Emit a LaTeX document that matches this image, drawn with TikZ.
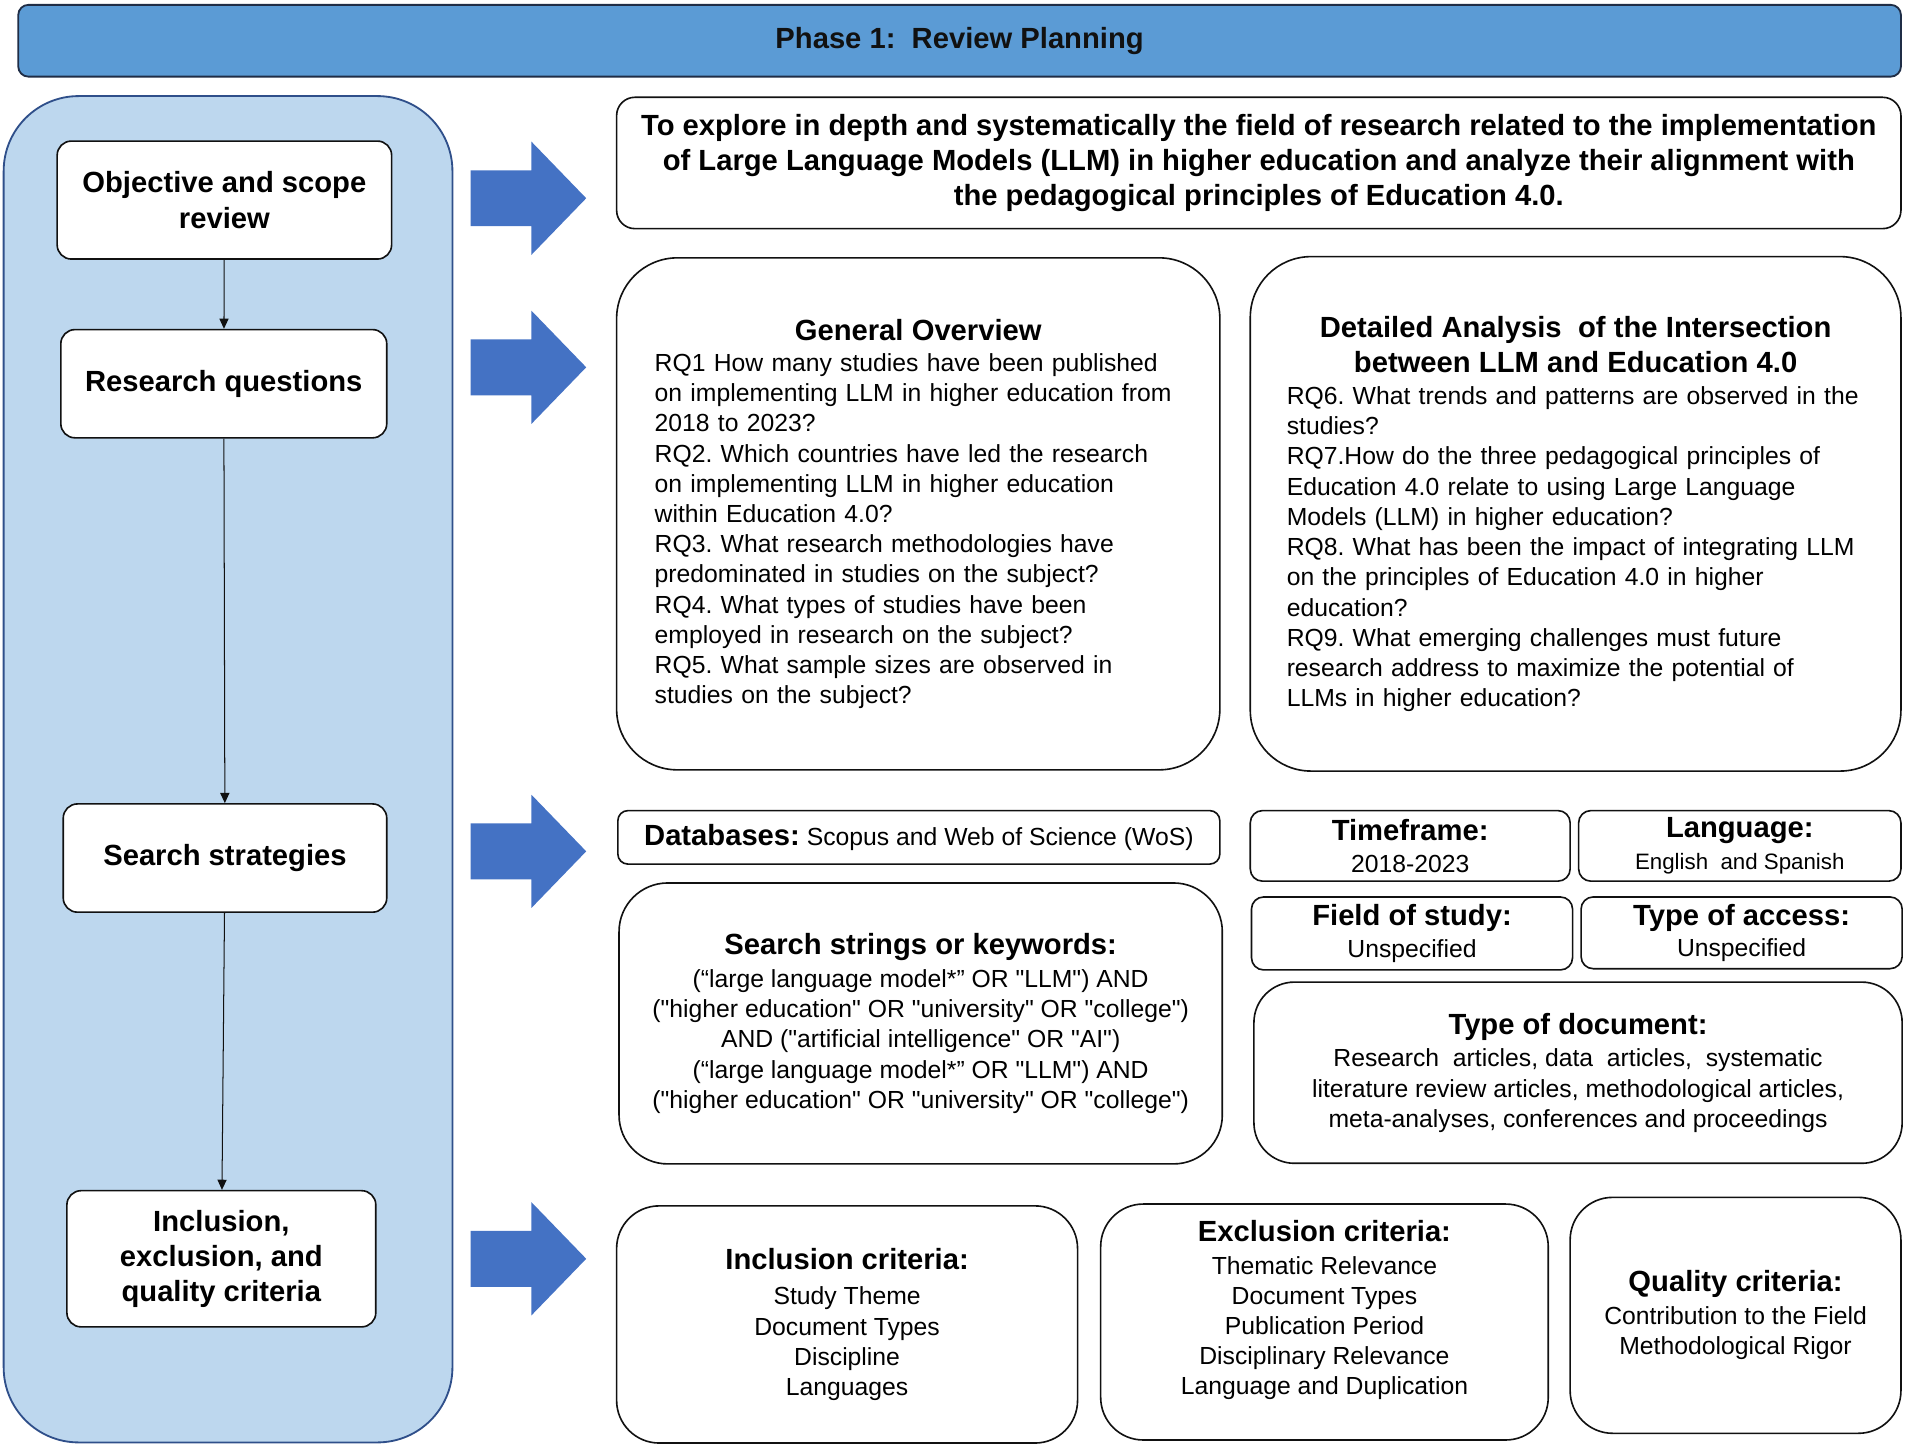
\documentclass[tikz,border=0pt]{standalone}
\usepackage{fontspec}
\setmainfont{Liberation Sans}[Ligatures=TeXOff]
\usepackage{xcolor}
\usepackage{tikz}
\usetikzlibrary{arrows.meta}
\definecolor{Ink}{HTML}{111111}
\definecolor{Banner}{HTML}{5B9BD5}
\definecolor{BannerLine}{HTML}{1F2D46}
\definecolor{Panel}{HTML}{BDD7EE}
\definecolor{PanelLine}{HTML}{2F4F8A}
\definecolor{BlockBlue}{HTML}{4472C4}
\newcommand{\hdfont}{\fontsize{14.4}{17.4}\selectfont\bfseries}
\newcommand{\txfont}{\fontsize{12.2}{14.9}\selectfont}
\frenchspacing

\begin{document}
\begin{tikzpicture}[
  x=0.6pt, y=-0.6pt,
  panel/.style={draw=PanelLine, fill=Panel, line width=0.9pt, rounded corners=37pt, inner sep=0pt},
  stepbox/.style={draw=Ink, fill=white, line width=0.8pt, rounded corners=7pt, align=center, inner sep=0pt, font=\hdfont},
  infobox/.style={draw=Ink, fill=white, line width=0.8pt, align=center, inner sep=0pt, font=\txfont},
  rqbox/.style={infobox, rounded corners=30pt, align=left, text width=#1},
  flow/.style={-{Triangle[length=5pt,width=4.5pt]}, line width=0.5pt, draw=Ink},
  block/.style={fill=BlockBlue}
]
\useasboundingbox (0,0) rectangle (1568,1189);

% banner and left column
\node[draw=BannerLine, fill=Banner, line width=0.9pt, rounded corners=5pt, minimum width=928.8pt, minimum height=35.4pt, font=\hdfont, text=Ink] (phase) at (789,33.5) {Phase 1:\ \ Review Planning};
\node[panel, minimum width=221.4pt, minimum height=664.2pt] (column) at (187.5,632.5) {};

\node[stepbox, minimum width=165pt, minimum height=58.2pt] (objective) at (184.5,164.5) {Objective and scope\\review};
\node[stepbox, minimum width=160.8pt, minimum height=53.4pt] (questions) at (184,315.5) {Research questions};
\node[stepbox, minimum width=159.6pt, minimum height=53.4pt] (strategies) at (185,705.5) {Search strategies};
\node[stepbox, minimum width=152.4pt, minimum height=67.2pt] (criteria) at (182,1035) {Inclusion,\\exclusion, and\\quality criteria};

\draw[flow] (objective)--(questions);
\draw[flow] (questions)--(strategies);
\draw[flow] (strategies)--(criteria);

% block arrows
\foreach \y in {163,302,700,1035}
  \fill[block] (387,\y-23)--(437,\y-23)--(437,\y-46.5)--(482,\y)--(437,\y+46.5)--(437,\y+23)--(387,\y+23)--cycle;

% objective
\node[infobox, font=\hdfont, rounded corners=9pt, minimum width=633.6pt, minimum height=64.8pt] (aim) at (1035,134) {To explore in depth and systematically the field of research related to the implementation\\of Large Language Models (LLM) in higher education and analyze their alignment with\\the pedagogical principles of Education 4.0.};

% research questions
\node[rqbox=260pt, minimum width=297.6pt, minimum height=252.6pt] (overview) at (755,422.5) {{\centering\hdfont General Overview\par}\vspace{0.6pt}
RQ1 How many studies have been published\\
on implementing LLM in higher education from\\
2018 to 2023?\\
RQ2. Which countries have led the research\\
on implementing LLM in higher education\\
within Education 4.0?\\
RQ3. What research methodologies have\\
predominated in studies on the subject?\\
RQ4. What types of studies have been\\
employed in research on the subject?\\
RQ5. What sample sizes are observed in\\
studies on the subject?};
\node[rqbox=285pt, minimum width=321pt, minimum height=253.8pt] (analysis) at (1295.5,422.5) {{\centering\hdfont Detailed Analysis\ \ of the Intersection\\between LLM and Education 4.0\par}\vspace{1pt}
RQ6. What trends and patterns are observed in the\\
studies?\\
RQ7.How do the three pedagogical principles of\\
Education 4.0 relate to using Large Language\\
Models (LLM) in higher education?\\
RQ8. What has been the impact of integrating LLM\\
on the principles of Education 4.0 in higher\\
education?\\
RQ9. What emerging challenges must future\\
research address to maximize the potential of\\
LLMs in higher education?};

% search strategy details
\node[infobox, rounded corners=5pt, minimum width=297pt, minimum height=26.4pt] (databases) at (755.5,688.5) {{\hdfont Databases:} Scopus and Web of Science (WoS)};
\node[infobox, rounded corners=24pt, minimum width=297.6pt, minimum height=138.6pt] (keywords) at (757,841.5) {{\hdfont Search strings or keywords:}\\[1.3pt]
(“large language model*” OR "LLM") AND\\
("higher education" OR "university" OR "college")\\
AND ("artificial intelligence" OR "AI")\\
(“large language model*” OR "LLM") AND\\
("higher education" OR "university" OR "college")};
\node[infobox, rounded corners=6pt, minimum width=157.8pt, minimum height=34.8pt] (timeframe) at (1159.5,695.5) {{\hdfont Timeframe:}\\[0.7pt]2018-2023};
\node[infobox, rounded corners=6pt, minimum width=159pt, minimum height=34.8pt] (language) at (1430.5,695.5) {{\hdfont Language:}\\[0.7pt]{\fontsize{11}{13}\selectfont English\ \ and Spanish}};
\node[infobox, rounded corners=6pt, minimum width=158.4pt, minimum height=36pt] (field) at (1161,767.5) {{\hdfont Field of study:}\\[0.7pt]Unspecified};
\node[infobox, rounded corners=6pt, minimum width=158.4pt, minimum height=35.4pt] (access) at (1432,767) {{\hdfont Type of access:}\\[0.7pt]Unspecified};
\node[infobox, rounded corners=20pt, minimum width=319.8pt, minimum height=89.4pt] (doctype) at (1297.5,882) {{\hdfont Type of document:}\\[1.3pt]
Research\ \ articles, data\ \ articles,\ \ systematic\\
literature review articles, methodological articles,\\
meta-analyses, conferences and proceedings};

% criteria
\node[infobox, rounded corners=21pt, minimum width=227.4pt, minimum height=117pt] (inclusion) at (696.5,1089) {{\hdfont Inclusion criteria:}\\[2.5pt]
Study Theme\\Document Types\\Discipline\\Languages};
\node[infobox, rounded corners=21pt, minimum width=220.8pt, minimum height=116.4pt] (exclusion) at (1089,1087) {{\hdfont Exclusion criteria:}\\[1.3pt]
Thematic Relevance\\Document Types\\Publication Period\\Disciplinary Relevance\\Language and Duplication\\[-0.5pt]\mbox{}};
\node[infobox, rounded corners=21pt, minimum width=163.2pt, minimum height=116.4pt] (quality) at (1427,1081.5) {{\hdfont Quality criteria:}\\[1.3pt]
Contribution to the Field\\Methodological Rigor};
\end{tikzpicture}
\end{document}
